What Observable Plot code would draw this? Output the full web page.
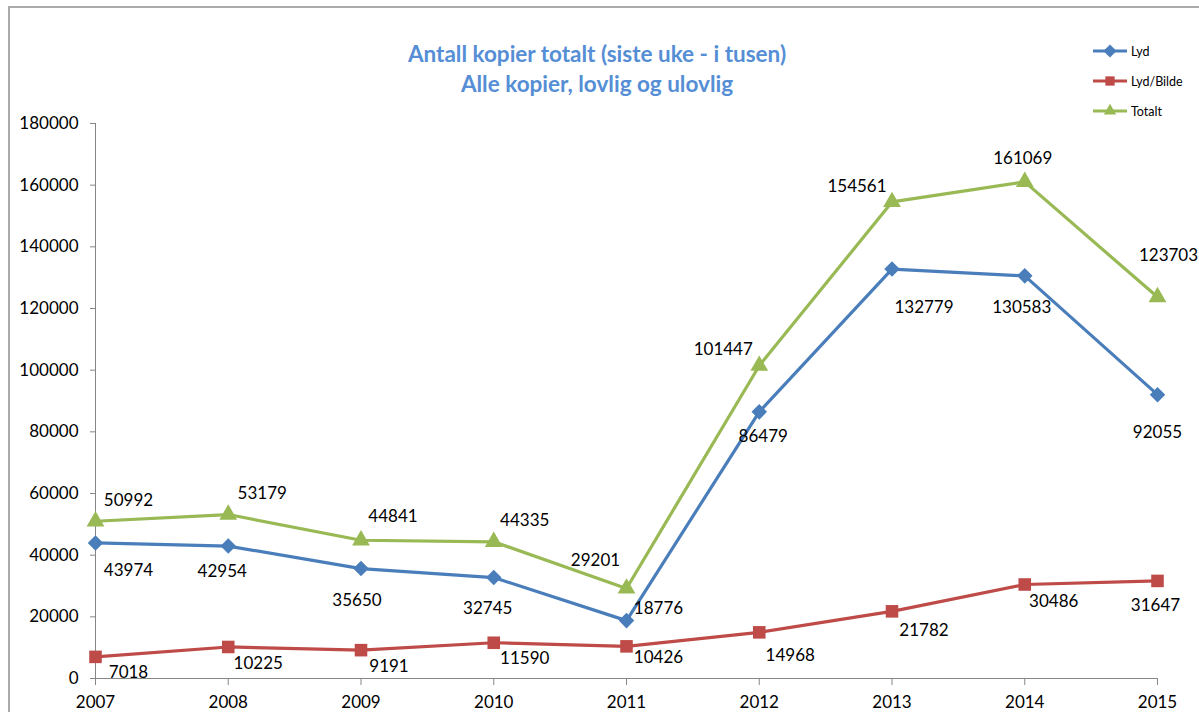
<!DOCTYPE html>
<html>
<head>
<meta charset="utf-8">
<script src="https://cdn.jsdelivr.net/npm/d3@7"></script>
<script src="https://cdn.jsdelivr.net/npm/@observablehq/plot@0.6"></script>
<style>
  html, body { margin: 0; padding: 0; background: #fff; }
  #wrap { position: relative; width: 1199px; height: 712px; overflow: hidden; font-family: Lato, "Open Sans", sans-serif; }
  #frame { position: absolute; left: 8px; top: 6px; width: 1300px; height: 800px; border-left: 2px solid #aaaaaa; border-top: 2px solid #aaaaaa; }
  #chart { position: absolute; left: 0; top: 0; }
  #title { position: absolute; left: 247px; width: 700px; top: 39px; text-align: center; color: #558ED5; font-weight: bold; font-size: 22.5px; line-height: 30px; }
  #legend { position: absolute; left: 1090px; top: 38px; }
</style>
</head>
<body>
<div id="wrap">
  <div id="frame"></div>
  <div id="chart"></div>
  <div id="title">Antall kopier totalt (siste uke - i tusen)<br>Alle kopier, lovlig og ulovlig</div>
  <div id="legend"></div>
</div>
<script>
const years = [2007, 2008, 2009, 2010, 2011, 2012, 2013, 2014, 2015];
const lyd = [43974, 42954, 35650, 32745, 18776, 86479, 132779, 130583, 92055];
const lydBilde = [7018, 10225, 9191, 11590, 10426, 14968, 21782, 30486, 31647];
const totalt = [50992, 53179, 44841, 44335, 29201, 101447, 154561, 161069, 123703];
const seriesNames = ["Lyd", "Lyd/Bilde", "Totalt"];
const yTicks = [0, 20000, 40000, 60000, 80000, 100000, 120000, 140000, 160000, 180000];

// styling (label offsets in px, per series and point)
const colors = {"Lyd": "#4A7EBB", "Lyd/Bilde": "#BE4B48", "Totalt": "#98B954"};
const symbols = {"Lyd": d3.symbolDiamond2, "Lyd/Bilde": d3.symbolSquare2, "Totalt": d3.symbolTriangle2};
const radii = {"Lyd": 7, "Lyd/Bilde": 8, "Totalt": 8.5};
const labelOffsets = {
  "Lyd": [[33,28],[-6,25],[-4,32],[-6,31],[32,-12],[4,25],[32,38],[-3,32],[0,38]],
  "Lyd/Bilde": [[33,16],[30,17],[28,16],[31,16],[32,11],[31,23],[32,19],[29,17],[-2,25]],
  "Totalt": [[33,-21],[34,-21],[32,-24],[31,-21],[-31,-28],[-36,-16],[-35,-15],[-2,-23],[11,-42]]
};

const seriesValues = {"Lyd": lyd, "Lyd/Bilde": lydBilde, "Totalt": totalt};
const rows = [];
for (const s of seriesNames) {
  seriesValues[s].forEach((v, i) => rows.push({series: s, year: years[i], value: v, i}));
}

const marks = [
  Plot.ruleY([0], {stroke: "#868686", strokeWidth: 1}),
  Plot.ruleX([2007], {stroke: "#868686", strokeWidth: 1}),
  Plot.axisY({ticks: yTicks, tickSize: 5, tickPadding: 12, tickFormat: d => String(d), fontSize: 17, stroke: "#868686", color: "#000", label: null}),
  Plot.axisX({ticks: years, tickSize: 7, tickPadding: 10, tickFormat: d => String(d), fontSize: 17, stroke: "#868686", color: "#000", label: null})
];
for (const s of seriesNames) {
  const data = rows.filter(r => r.series === s);
  marks.push(Plot.line(data, {x: "year", y: "value", stroke: colors[s], strokeWidth: 3.2}));
  marks.push(Plot.dot(data, {x: "year", y: "value", symbol: symbols[s], r: radii[s], fill: colors[s], stroke: "none"}));
  data.forEach((d, i) => {
    const [dx, dy] = labelOffsets[s][i];
    marks.push(Plot.text([d], {x: "year", y: "value", text: r => String(r.value), dx, dy, fontSize: 17, fill: "#000"}));
  });
}

const chart = Plot.plot({
  width: 1199,
  height: 712,
  marginLeft: 95,
  marginRight: 42,
  marginTop: 123,
  marginBottom: 34,
  style: {fontFamily: "Lato, 'Open Sans', sans-serif", fontSize: "17px", background: "transparent", overflow: "visible"},
  x: {domain: [2007, 2015]},
  y: {domain: [0, 180000]},
  marks
});
document.getElementById("chart").appendChild(chart);

// legend
const lg = d3.select("#legend").append("svg").attr("width", 109).attr("height", 90).style("overflow", "visible");
seriesNames.forEach((s, i) => {
  const y = 13 + i * 30;
  lg.append("line").attr("x1", 3).attr("x2", 37).attr("y1", y).attr("y2", y).attr("stroke", colors[s]).attr("stroke-width", 3.2);
  lg.append("path").attr("d", d3.symbol(symbols[s], 110)()).attr("transform", `translate(20,${y})`).attr("fill", colors[s]);
  lg.append("text").attr("x", 41).attr("y", y + 4.5).attr("font-size", 12.5).attr("font-family", "Lato, 'Open Sans', sans-serif").attr("fill", "#000").text(s);
});
</script>
</body>
</html>
